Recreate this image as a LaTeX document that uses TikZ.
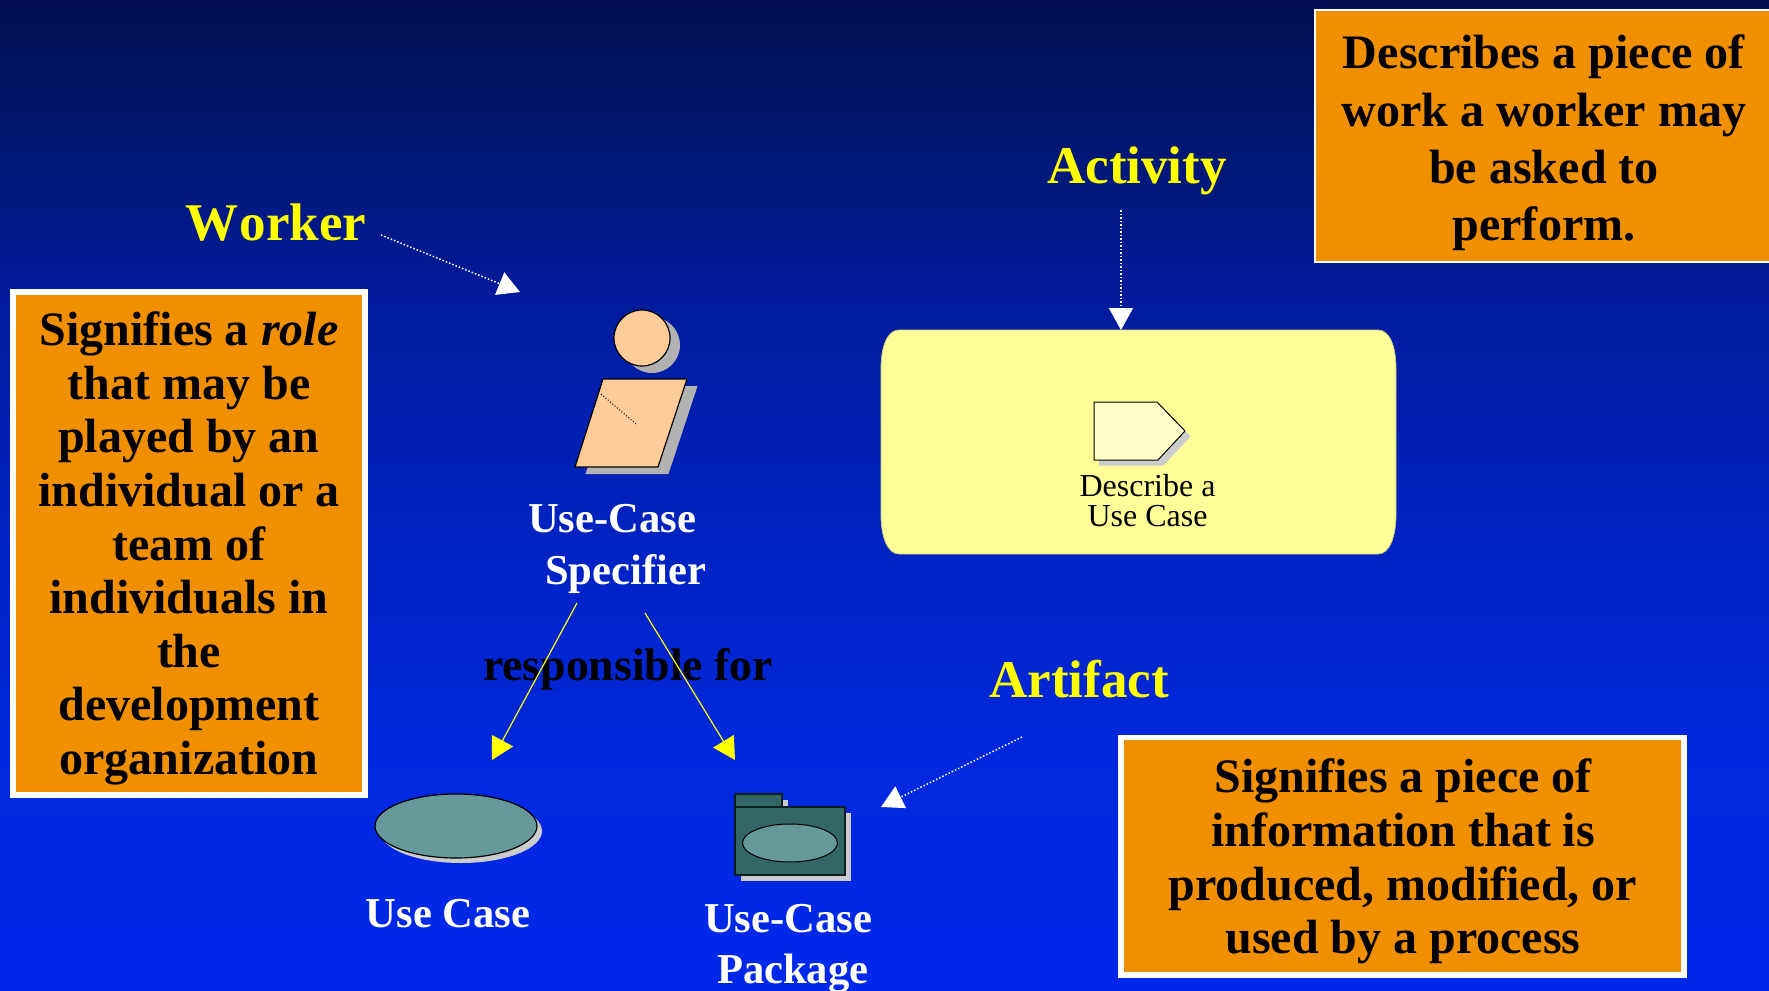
\documentclass[tikz,border=0pt]{standalone}
\usepackage{fontspec}
\setmainfont{Liberation Serif}
\usetikzlibrary{arrows.meta}
\pgfdeclareverticalshading{slidebg}{100bp}{
  rgb(0bp)=(0,0.157,0.92);
  rgb(25bp)=(0,0.157,0.92);
  rgb(35bp)=(0,0.157,0.88);
  rgb(45bp)=(0,0.14,0.79);
  rgb(55bp)=(0,0.12,0.675);
  rgb(61bp)=(0,0.10,0.59);
  rgb(65.5bp)=(0,0.10,0.49);
  rgb(75bp)=(0,0.055,0.31);
  rgb(100bp)=(0,0.055,0.31)}
\definecolor{boxorange}{RGB}{240,144,0}
\definecolor{lab}{RGB}{255,255,0}
\definecolor{skin}{RGB}{255,204,153}
\definecolor{shad}{RGB}{178,178,178}
\definecolor{lshad}{RGB}{204,204,204}
\definecolor{teal1}{RGB}{51,102,102}
\definecolor{teal2}{RGB}{102,153,153}
\definecolor{paleY}{RGB}{255,255,153}
\definecolor{paleZ}{RGB}{255,255,200}
\tikzset{
  x=0.5pt,y=-0.5pt,
  notetxt/.style={font=\fontsize{24}{26.8}\selectfont\bfseries,align=center,inner sep=0pt,text=black},
  title/.style={font=\fontsize{26.5}{30}\selectfont\bfseries,text=lab,inner sep=0pt},
  capt/.style={font=\fontsize{21.3}{25.6}\selectfont\bfseries,text=white,inner sep=0pt,align=left},
  pointer/.style={white,densely dotted,line width=0.75pt,-{Triangle[length=11pt,width=12pt,fill=white]}},
  yarrow/.style={lab,line width=0.6pt,-{Triangle[length=11pt,width=12pt,fill=lab]}},
}
\begin{document}
\begin{tikzpicture}
\useasboundingbox (0,0) rectangle (1769,991);
\shade[shading=slidebg] (0,0) rectangle (1769,991);

% note boxes
\fill[boxorange,draw=white,line width=1pt] (1315,10) rectangle (1775,262);
\fill[boxorange,draw=white,line width=2.75pt] (13,292) rectangle (365,795);
\fill[boxorange,draw=white,line width=2.75pt] (1121,737.5) rectangle (1684,975);

\node[notetxt,font=\fontsize{24.05}{28.7}\selectfont\bfseries] (nA) at (1544,143) {Describes a piece of\\work a worker may\\be asked to\\perform.};
\node[notetxt] (nB) at (189,548.5) {Signifies a \textit{role}\\that may be\\played by an\\individual or a\\team of\\individuals in\\the\\development\\organization};
\node[notetxt] (nC) at (1403,861.5) {Signifies a piece of\\information that is\\produced, modified, or\\used by a process};

% titles
\node[title] (worker) at (276,223) {W\kern0.6pt orker};
\node[title] (activity) at (1137,170.5) {Activity};
\node[title] (artifact) at (1079,679) {Artifact};

% worker icon
\fill[shad] (652,345) circle (28);
\fill[shad] (613.5,386) -- (697.5,386) -- (668.5,474) -- (585.5,474) -- cycle;
\draw[fill=skin,line width=0.6pt] (642,338) circle (28);
\draw[fill=skin,line width=0.6pt] (603,379) -- (687,379) -- (658,467) -- (575,467) -- cycle;
\draw[densely dotted,line width=0.5pt] (601,394) -- (636,424);
\coordinate (wIcon) at (520,292);

\node[capt] (spec) at (617,549) {Use-Case\\\hspace*{8.5pt}Specifier};
\node[font=\fontsize{22.85}{25}\selectfont\bfseries,text=black,inner sep=0pt] (resp) at (628,669.5) {responsible for};

% activity box
\draw[fill=paleY,draw=paleY!80!black,line width=0.4pt]
  (899,330) -- (1378,330) .. controls (1389,330) and (1396,345) .. (1396,369)
  -- (1396,514) .. controls (1396,538) and (1389,554) .. (1378,554)
  -- (899,554) .. controls (888,554) and (881,538) .. (881,514)
  -- (881,369) .. controls (881,345) and (888,330) .. (899,330) -- cycle;
\coordinate (aBox) at (1121,330);
\fill[lshad] (1099,407.5) -- (1162.5,407.5) -- (1190.5,436.5) -- (1163.5,465.5) -- (1099,465.5) -- cycle;
\draw[fill=paleZ,line width=0.5pt] (1094,402) -- (1157,402) -- (1185,431) -- (1158,460) -- (1094,460) -- cycle;
\node[font=\fontsize{16}{15}\selectfont,align=center,inner sep=0pt] (descr) at (1147.5,501) {Describe a\\Use Case};

% use case
\fill[lshad] (461,831) ellipse (81 and 32);
\draw[fill=teal2,line width=0.6pt] (456,826) ellipse (81 and 32);
\node[capt] (uc) at (448,914) {Use Case};
\coordinate (ucTop) at (492,760);

% package
\fill[lshad] (741,800) rectangle (788,813);
\fill[lshad] (741,813) rectangle (851,881);
\draw[fill=teal1,line width=0.6pt,draw=black!70!teal1] (735,794) rectangle (782,807);
\draw[fill=teal1,line width=0.6pt,draw=black!70!teal1] (735,807) rectangle (845,875);
\draw[fill=teal2,line width=0.5pt] (790,843) ellipse (47.5 and 19);
\node[capt] (pkg) at (788,948.5) {Use-Case\\\hspace*{6.5pt}Package};
\coordinate (pkgTop) at (735,760);
\coordinate (pkgSide) at (881,807);

% connectors
\coordinate (wStart) at (381,235);
\coordinate (aStart) at (1121,210);
\coordinate (rStart) at (1022,737);
\coordinate (s1) at (577,603);
\coordinate (s2) at (645,613);
\draw[pointer] (wStart) -- (wIcon);
\draw[pointer] (aStart) -- (aBox);
\draw[pointer] (rStart) -- (pkgSide);
\draw[yarrow] (s1) -- (ucTop);
\draw[yarrow] (s2) -- (pkgTop);
\end{tikzpicture}
\end{document}
